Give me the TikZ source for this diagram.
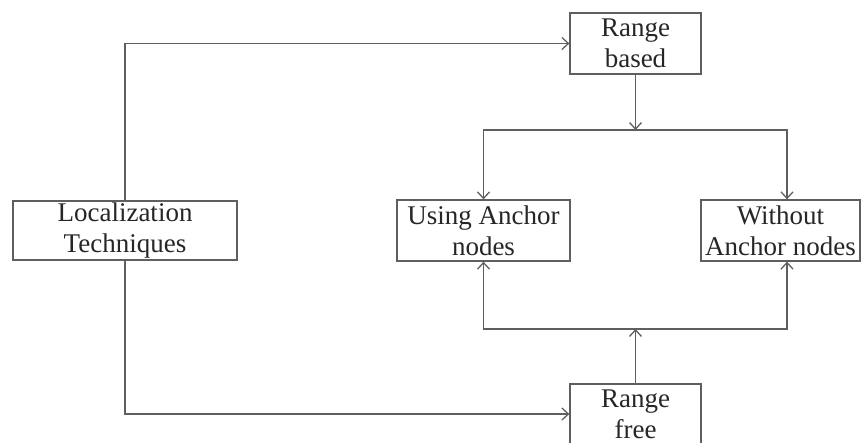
\documentclass[tikz,border=0pt]{standalone}
\usepackage{fontspec}
\setmainfont{Liberation Serif}
\usepackage{tikz}
\usetikzlibrary{positioning, arrows.meta}

\begin{document}
\begin{tikzpicture}[
    x=1pt, y=-1pt,
    >={Straight Barb[length=6.5pt,width=12pt]},
    box/.style={rectangle, draw=linegray, line width=1.3pt, align=center,
        text=black!85, font=\fontsize{27}{31}\selectfont, inner sep=0pt},
    link/.style={draw=linegray, line width=1.3pt}
]
\definecolor{linegray}{RGB}{95,95,95}
\clip (0,0) rectangle (862,442);

\node[box, minimum width=224pt, minimum height=59pt](loc) at (125,230.5){Localization\\Techniques};
\node[box, minimum width=131pt, minimum height=61pt](rb) at (635.5,43.5){Range\\based};
\node[box, minimum width=173pt, minimum height=61pt](using) at (483.5,230.5){Using Anchor\\nodes};
\node[box, minimum width=159pt, minimum height=61pt](without) at (780.5,230.5){Without\\Anchor nodes};
\node[box, minimum width=131pt, minimum height=60pt](rf) at (635.5,414){Range\\free};

\coordinate (tb) at (635.5,130);
\coordinate (bb) at (635.5,329);
\coordinate (wtop) at ([xshift=6.5pt]without.north);
\coordinate (wbot) at ([xshift=6.5pt]without.south);

\draw[link, ->] (loc.north) |- (rb.west);
\draw[link, ->] (loc.south) |- (rf.west);
\draw[link, ->] (rb.south) -- (tb);
\draw[link, ->] (tb) -| (using.north);
\draw[link, ->] (tb) -| (wtop);
\draw[link, ->] (rf.north) -- (bb);
\draw[link, ->] (bb) -| (using.south);
\draw[link, ->] (bb) -| (wbot);
\end{tikzpicture}
\end{document}
